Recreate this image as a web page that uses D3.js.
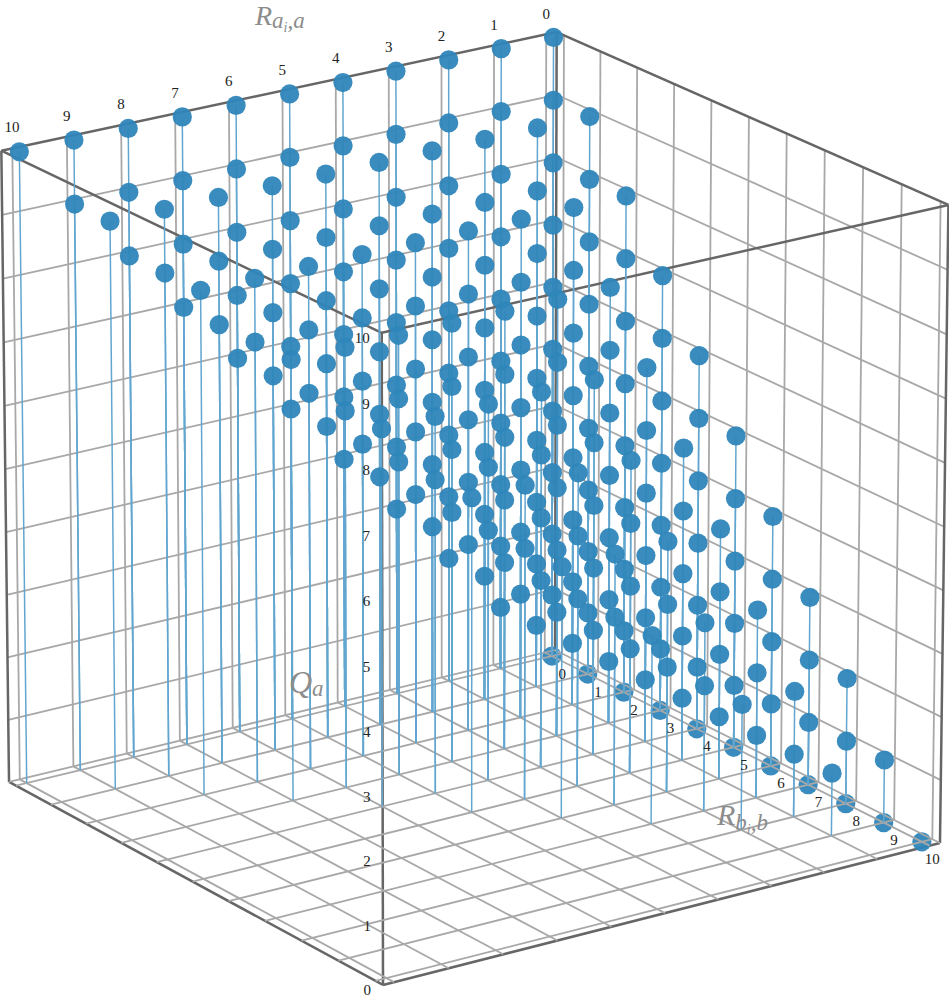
<!DOCTYPE html>
<html>
<head>
<meta charset="utf-8">
<script src="https://cdn.jsdelivr.net/npm/d3@7"></script>
<style>
  body { margin: 0; background: #fff; }
  text { font-family: "Liberation Serif", serif; }
</style>
</head>
<body>
<script>
"use strict";

// Qa level, and how far Ra and Rb run on that level
var qaLevels = [0, 1, 2, 3, 4, 5, 6, 7, 8, 9, 10];
var raMax = [0, 1, 2, 3, 4, 5, 6, 7, 8, 9, 10];
var rbMax = [10, 9, 8, 7, 6, 5, 4, 3, 2, 1, 0];

var tickValues = [0, 1, 2, 3, 4, 5, 6, 7, 8, 9, 10];

var width = 949,
    height = 1000;

var points = [];
qaLevels.forEach(function (q, n) {
  d3.range(raMax[n] + 1).forEach(function (ra) {
    d3.range(rbMax[n] + 1).forEach(function (rb) {
      points.push({ ra: ra, rb: rb, q: q });
    });
  });
});

// data to unit cube
var lo = -0.2, hi = 10.2;
var sx = d3.scaleLinear().domain([lo, hi]).range([0, 1]);
var sy = d3.scaleLinear().domain([lo, hi]).range([0, 1]);
var sz = d3.scaleLinear().domain([0, 10]).range([0, 1]);

// perspective camera
var camera = [
  [-546.2, 351.2, -7.5, 555],
  [113.1, 162.7, -618.5, 650],
  [-0.02412, -0.03594, -0.0165, 1]
];

function project(ra, rb, q) {
  var v = [sx(ra), sy(rb), sz(q), 1];
  var r = camera.map(function (row) { return d3.sum(row, function (c, i) { return c * v[i]; }); });
  return [r[0] / r[2], r[1] / r[2]];
}

var svg = d3.select("body")
  .append("svg")
    .attr("width", width)
    .attr("height", height)
    .style("display", "block");

function segment(g, a, b) {
  var p = project(a[0], a[1], a[2]), s = project(b[0], b[1], b[2]);
  g.append("line")
    .attr("x1", p[0]).attr("y1", p[1])
    .attr("x2", s[0]).attr("y2", s[1]);
}

/*
  Walls
*/
var walls = svg.append("g")
  .attr("stroke", "#a8a8a8")
  .attr("stroke-width", 1.8);

tickValues.forEach(function (t) {
  segment(walls, [t, lo, 0], [t, lo, 10]);
  segment(walls, [lo, t, 0], [lo, t, 10]);
  if (t > 0 && t < 10) {
    segment(walls, [lo, lo, t], [hi, lo, t]);
    segment(walls, [lo, lo, t], [lo, hi, t]);
  }
});

// box edges that sit behind the dots
var edges = svg.append("g")
  .attr("stroke", "#666")
  .attr("stroke-width", 2.5);

segment(edges, [lo, lo, 0], [lo, lo, 9.98]);
segment(edges, [hi, lo, 0], [hi, lo, 10]);
segment(edges, [lo, hi, 0], [lo, hi, 10]);
segment(edges, [hi, hi, 0], [hi, hi, 10]);
segment(edges, [lo, lo, 10], [hi, lo, 10]);
segment(edges, [lo, lo, 10], [lo, hi, 10]);
segment(edges, [hi, lo, 10], [hi, hi, 10]);
segment(edges, [lo, hi, 10], [hi, hi, 10]);
segment(edges, [hi, lo, 0], [hi, hi, 0]);
segment(edges, [lo, hi, 0], [hi, hi, 0]);

/*
  Dots on the floor go under the floor grid, the rest over it
*/
function drawDots(data) {
  svg.append("g")
    .selectAll("circle")
    .data(data)
    .enter()
    .append("circle")
      .attr("cx", function (d) { return project(d.ra, d.rb, d.q)[0]; })
      .attr("cy", function (d) { return project(d.ra, d.rb, d.q)[1]; })
      .attr("r", 9.6)
      .attr("fill", "#2e86b9")
      .attr("fill-opacity", 0.95);
}

drawDots(points.filter(function (d) { return d.q === 0; }));

var floor = svg.append("g")
  .attr("stroke", "#a8a8a8")
  .attr("stroke-width", 1.8);

tickValues.forEach(function (t) {
  segment(floor, [t, lo, 0], [t, hi, 0]);
  segment(floor, [lo, t, 0], [hi, t, 0]);
});
segment(floor, [lo, lo, 0], [hi, lo, 0]);
segment(floor, [lo, lo, 0], [lo, hi, 0]);

// drop lines
svg.append("g")
  .selectAll("line")
  .data(points.filter(function (d) { return d.q > 0; }))
  .enter()
  .append("line")
    .attr("x1", function (d) { return project(d.ra, d.rb, d.q)[0]; })
    .attr("y1", function (d) { return project(d.ra, d.rb, d.q)[1]; })
    .attr("x2", function (d) { return project(d.ra, d.rb, 0)[0]; })
    .attr("y2", function (d) { return project(d.ra, d.rb, 0)[1]; })
    .attr("stroke", "#62a6d0")
    .attr("stroke-width", 1.5);

drawDots(points.filter(function (d) { return d.q > 0; }));

/*
  Tick labels
*/
var labels = svg.append("g")
  .attr("font-size", 15)
  .attr("fill", "#222")
  .attr("text-anchor", "middle");

labels.selectAll(".ra")
  .data(tickValues)
  .enter()
  .append("text")
    .attr("class", "ra")
    .attr("x", function (d) { return project(d, lo, 10.33)[0]; })
    .attr("y", function (d) { return project(d, lo, 10.33)[1] + 5; })
    .text(function (d) { return d; });

labels.selectAll(".rb")
  .data(tickValues)
  .enter()
  .append("text")
    .attr("class", "rb")
    .attr("x", function (d) { return project(lo, d, 0)[0]; })
    .attr("y", function (d) { return project(lo, d, 0)[1] + 25; })
    .text(function (d) { return d; });

labels.selectAll(".qa")
  .data(tickValues)
  .enter()
  .append("text")
    .attr("class", "qa")
    .attr("x", function (d) { return project(hi, hi, d)[0] - 12; })
    .attr("y", function (d) { return project(hi, hi, d)[1] + 10; })
    .attr("text-anchor", "end")
    .text(function (d) { return d; });

/*
  Axis titles
*/
function axisTitle(x, y, parts) {
  var t = svg.append("text")
    .attr("x", x)
    .attr("y", y)
    .attr("fill", "#8c8c8c")
    .attr("font-style", "italic")
    .attr("font-size", 28);
  parts.forEach(function (p) {
    t.append("tspan")
      .attr("font-size", p.size)
      .attr("dy", p.dy)
      .text(p.text);
  });
}

axisTitle(255, 25, [
  { text: "R", size: 28, dy: 0 },
  { text: "a", size: 23, dy: 3 },
  { text: "i", size: 14, dy: 4 },
  { text: ",a", size: 23, dy: -4 }
]);
axisTitle(717, 825, [
  { text: "R", size: 30, dy: 0 },
  { text: "b", size: 23, dy: 5 },
  { text: "i", size: 14, dy: 4 },
  { text: ",b", size: 23, dy: -4 }
]);
axisTitle(289, 693, [
  { text: "Q", size: 32, dy: 0 },
  { text: "a", size: 23, dy: 3 }
]);
</script>
</body>
</html>
